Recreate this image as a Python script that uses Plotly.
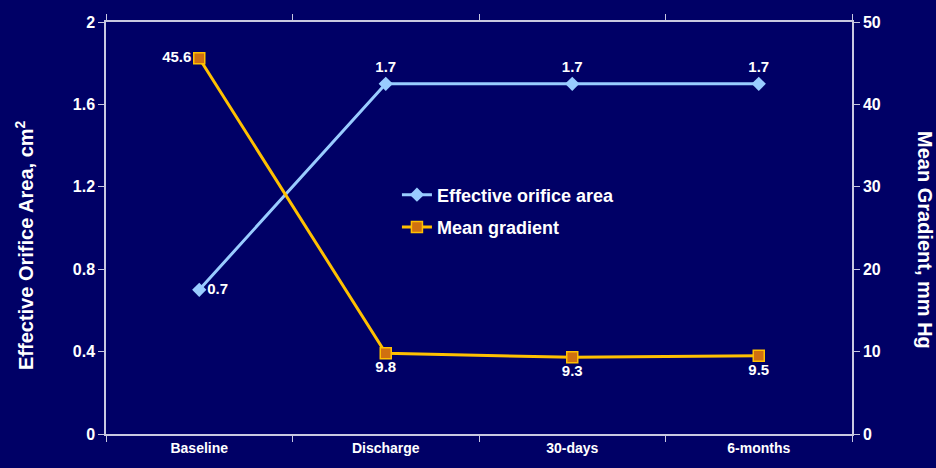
import plotly.graph_objects as go

categories = ["Baseline", "Discharge", "30-days", "6-months"]
eoa_values = [0.7, 1.7, 1.7, 1.7]
gradient_values = [45.6, 9.8, 9.3, 9.5]
eoa_text_pos = ["middle right", "top center", "top center", "top center"]
grad_text_pos = ["middle left", "bottom center", "bottom center", "bottom center"]

bg = "#000066"
axis_col = "#C8C8E0"
font_family = "Liberation Sans, Arial, sans-serif"
label_font = dict(family=font_family, size=15, color="white")

fig = go.Figure()

fig.add_trace(go.Scatter(
    x=categories, y=eoa_values, name="<b>Effective orifice area</b>",
    legendgroup="eoa",
    mode="lines+markers+text",
    line=dict(color="#99CCFF", width=3),
    marker=dict(symbol="diamond", size=11, color="#99CCFF"),
    text=[f"<b>{v}</b>" for v in eoa_values],
    textposition=eoa_text_pos,
    textfont=label_font,
    yaxis="y",
))

fig.add_trace(go.Scatter(
    x=categories, y=gradient_values, name="<b>Mean gradient</b>",
    legendgroup="grad",
    mode="lines+markers+text",
    line=dict(color="#FFC000", width=3),
    marker=dict(symbol="square", size=11, color="#D07010",
                line=dict(color="#FFC000", width=1.5)),
    text=[f"<b>{v}</b>" for v in gradient_values],
    textposition=grad_text_pos,
    textfont=label_font,
    yaxis="y2",
))

fig.update_layout(
    width=936, height=468,
    margin=dict(l=106, r=84, t=22, b=30),
    paper_bgcolor=bg, plot_bgcolor=bg,
    font=dict(family=font_family, size=15, color="white"),
    showlegend=True,
    legend=dict(x=0.39, y=0.625, xanchor="left", yanchor="top",
                bgcolor="rgba(0,0,0,0)", font=dict(size=18, color="white"),
                itemwidth=30, tracegroupgap=6),
    xaxis=dict(
        type="category", range=[-0.5, 3.5],
        showgrid=False, zeroline=False,
        showline=True, linecolor=axis_col, linewidth=1.5, mirror="ticks",
        ticks="outside", tickson="boundaries", ticklen=6, tickcolor=axis_col,
        tickfont=dict(size=14, color="white"),
        tickvals=categories, ticktext=[f"<b>{c}</b>" for c in categories],
    ),
    yaxis=dict(
        range=[0, 2], tickvals=[0, 0.4, 0.8, 1.2, 1.6, 2],
        ticktext=["<b>0</b>", "<b>0.4</b>", "<b>0.8</b>", "<b>1.2</b>", "<b>1.6</b>", "<b>2</b>"],
        showgrid=False, zeroline=False,
        showline=True, linecolor=axis_col, linewidth=1.5,
        ticks="outside", ticklen=6, tickcolor=axis_col,
        tickfont=dict(size=16, color="white"),
    ),
    yaxis2=dict(
        range=[0, 50], tickvals=[0, 10, 20, 30, 40, 50],
        ticktext=["<b>0</b>", "<b>10</b>", "<b>20</b>", "<b>30</b>", "<b>40</b>", "<b>50</b>"],
        overlaying="y", side="right",
        showgrid=False, zeroline=False,
        showline=True, linecolor=axis_col, linewidth=1.5,
        ticks="outside", ticklen=6, tickcolor=axis_col,
        tickfont=dict(size=16, color="white"),
    ),
)

# Left-hand axis title, reading bottom to top
fig.add_annotation(
    text="<b>Effective Orifice Area, cm<sup>2</sup></b>",
    xref="paper", yref="paper", x=0, y=0.5,
    xanchor="center", yanchor="middle",
    xshift=-82, yshift=-17, textangle=-90, showarrow=False,
    font=dict(family=font_family, size=20, color="white"),
)

# Right-hand axis title, reading top to bottom
fig.add_annotation(
    text="<b>Mean Gradient, mm Hg</b>",
    xref="paper", yref="paper", x=1, y=0.5,
    xanchor="center", yanchor="middle",
    xshift=73, yshift=-12, textangle=90, showarrow=False,
    font=dict(family=font_family, size=20, color="white"),
)

fig.write_html("out.html")
